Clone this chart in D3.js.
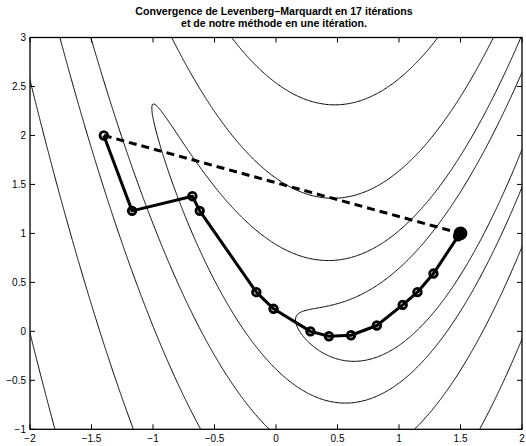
<!DOCTYPE html>
<html>
<head>
<meta charset="utf-8">
<script src="https://cdn.jsdelivr.net/npm/d3@7"></script>
<style>
  body { margin: 0; background: #fff; }
  svg { display: block; font-family: "Liberation Sans", Arial, sans-serif; }
</style>
</head>
<body>
<svg id="chart" width="526" height="446"></svg>
<script>
// title lines
const titleLines = [
    "Convergence de Levenberg\u2013Marquardt en 17 itérations",
    "et de notre méthode en une itération."
];

// axis ticks
const xTicks = [-2, -1.5, -1, -0.5, 0, 0.5, 1, 1.5, 2];
const xTickLabels = ["\u22122", "\u22121.5", "\u22121", "\u22120.5", "0", "0.5", "1", "1.5", "2"];
const yTicks = [-1, -0.5, 0, 0.5, 1, 1.5, 2, 2.5, 3];
const yTickLabels = ["\u22121", "\u22120.5", "0", "0.5", "1", "1.5", "2", "2.5", "3"];

// contour levels of the cost function
const levels = [1.8, 6.3, 19.5, 54.5, 148, 405];

// Levenberg-Marquardt iterates
const lmX = [-1.40, -1.17, -0.68, -0.62, -0.16, -0.02, 0.28, 0.43, 0.61, 0.82, 1.03, 1.15, 1.28, 1.48, 1.49, 1.50, 1.50, 1.50];
const lmY = [2.00, 1.23, 1.38, 1.23, 0.40, 0.23, 0.00, -0.05, -0.04, 0.06, 0.27, 0.40, 0.59, 0.97, 0.99, 1.00, 1.00, 1.00];

// our method: one step
const oneX = [-1.40, 1.50];
const oneY = [2.00, 1.00];

// cost function (shifted Rosenbrock-like valley y = (x-0.5)^2)
function cost(x, y) {
    let u = x - 0.5;
    return (1 - u) * (1 - u) + 10 * (y - u * u) * (y - u * u);
}

let svg = d3.select("#chart");

let x = d3.scaleLinear().domain([-2, 2]).range([30, 522]);
let y = d3.scaleLinear().domain([-1, 3]).range([429.3, 37.5]);

svg.append("defs").append("clipPath")
    .attr("id", "plot-clip")
    .append("rect")
    .attr("x", x(-2)).attr("y", y(3))
    .attr("width", x(2) - x(-2)).attr("height", y(-1) - y(3));

// sample the function on a grid slightly larger than the plot
let x0 = -2.1, y0 = -1.1, n = 420, m = 420;
let dx = 4.2 / n, dy = 4.2 / m;
let grid = new Array(n * m);
for (let j = 0; j < m; j++) {
    for (let i = 0; i < n; i++) {
        grid[i + j * n] = cost(x0 + (i + 0.5) * dx, y0 + (j + 0.5) * dy);
    }
}

let contours = d3.contours().size([n, m]).thresholds(levels)(grid);

let proj = d3.geoTransform({
    point: function (cx, cy) {
        this.stream.point(x(x0 + cx * dx), y(y0 + cy * dy));
    }
});
let geoPath = d3.geoPath(proj);

svg.append("g")
    .attr("clip-path", "url(#plot-clip)")
    .selectAll("path")
    .data(contours)
    .join("path")
    .attr("d", geoPath)
    .attr("fill", "none")
    .attr("stroke", "#000")
    .attr("stroke-width", 1);

// dashed line (one iteration)
let line = d3.line().x(d => x(d[0])).y(d => y(d[1]));
svg.append("path")
    .attr("d", line(d3.zip(oneX, oneY)))
    .attr("fill", "none")
    .attr("stroke", "#000")
    .attr("stroke-width", 3)
    .attr("stroke-dasharray", "8,5");

// LM path
let lmPts = d3.zip(lmX, lmY);
svg.append("path")
    .attr("d", line(lmPts))
    .attr("fill", "none")
    .attr("stroke", "#000")
    .attr("stroke-width", 3)
    .attr("stroke-linejoin", "round");

svg.append("g")
    .selectAll("circle")
    .data(lmPts)
    .join("circle")
    .attr("cx", d => x(d[0]))
    .attr("cy", d => y(d[1]))
    .attr("r", (d, i) => i === lmPts.length - 1 ? 5.5 : 3.8)
    .attr("fill", (d, i) => i === lmPts.length - 1 ? "#000" : "none")
    .attr("stroke", "#000")
    .attr("stroke-width", 2.8);

// frame
svg.append("rect")
    .attr("x", x(-2)).attr("y", y(3))
    .attr("width", x(2) - x(-2)).attr("height", y(-1) - y(3))
    .attr("fill", "none")
    .attr("stroke", "#000")
    .attr("stroke-width", 1.3);

// inward ticks on all four sides
let tl = 5;
let ticks = svg.append("g").attr("stroke", "#000").attr("stroke-width", 1);
xTicks.forEach(function (t) {
    ticks.append("line").attr("x1", x(t)).attr("x2", x(t)).attr("y1", y(-1)).attr("y2", y(-1) - tl);
    ticks.append("line").attr("x1", x(t)).attr("x2", x(t)).attr("y1", y(3)).attr("y2", y(3) + tl);
});
yTicks.forEach(function (t) {
    ticks.append("line").attr("x1", x(-2)).attr("x2", x(-2) + tl).attr("y1", y(t)).attr("y2", y(t));
    ticks.append("line").attr("x1", x(2)).attr("x2", x(2) - tl).attr("y1", y(t)).attr("y2", y(t));
});

// tick labels
svg.append("g")
    .selectAll("text")
    .data(xTicks)
    .join("text")
    .attr("x", d => x(d))
    .attr("y", 442)
    .attr("text-anchor", "middle")
    .attr("font-size", 10)
    .text((d, i) => xTickLabels[i]);

svg.append("g")
    .selectAll("text")
    .data(yTicks)
    .join("text")
    .attr("x", 26)
    .attr("y", d => y(d) + 3.5)
    .attr("text-anchor", "end")
    .attr("font-size", 10)
    .text((d, i) => yTickLabels[i]);

// title
svg.append("g")
    .selectAll("text")
    .data(titleLines)
    .join("text")
    .attr("x", 274)
    .attr("y", (d, i) => 14.5 + i * 12.5)
    .attr("text-anchor", "middle")
    .attr("font-size", 10.6)
    .attr("font-weight", "bold")
    .text(d => d);
</script>
</body>
</html>
